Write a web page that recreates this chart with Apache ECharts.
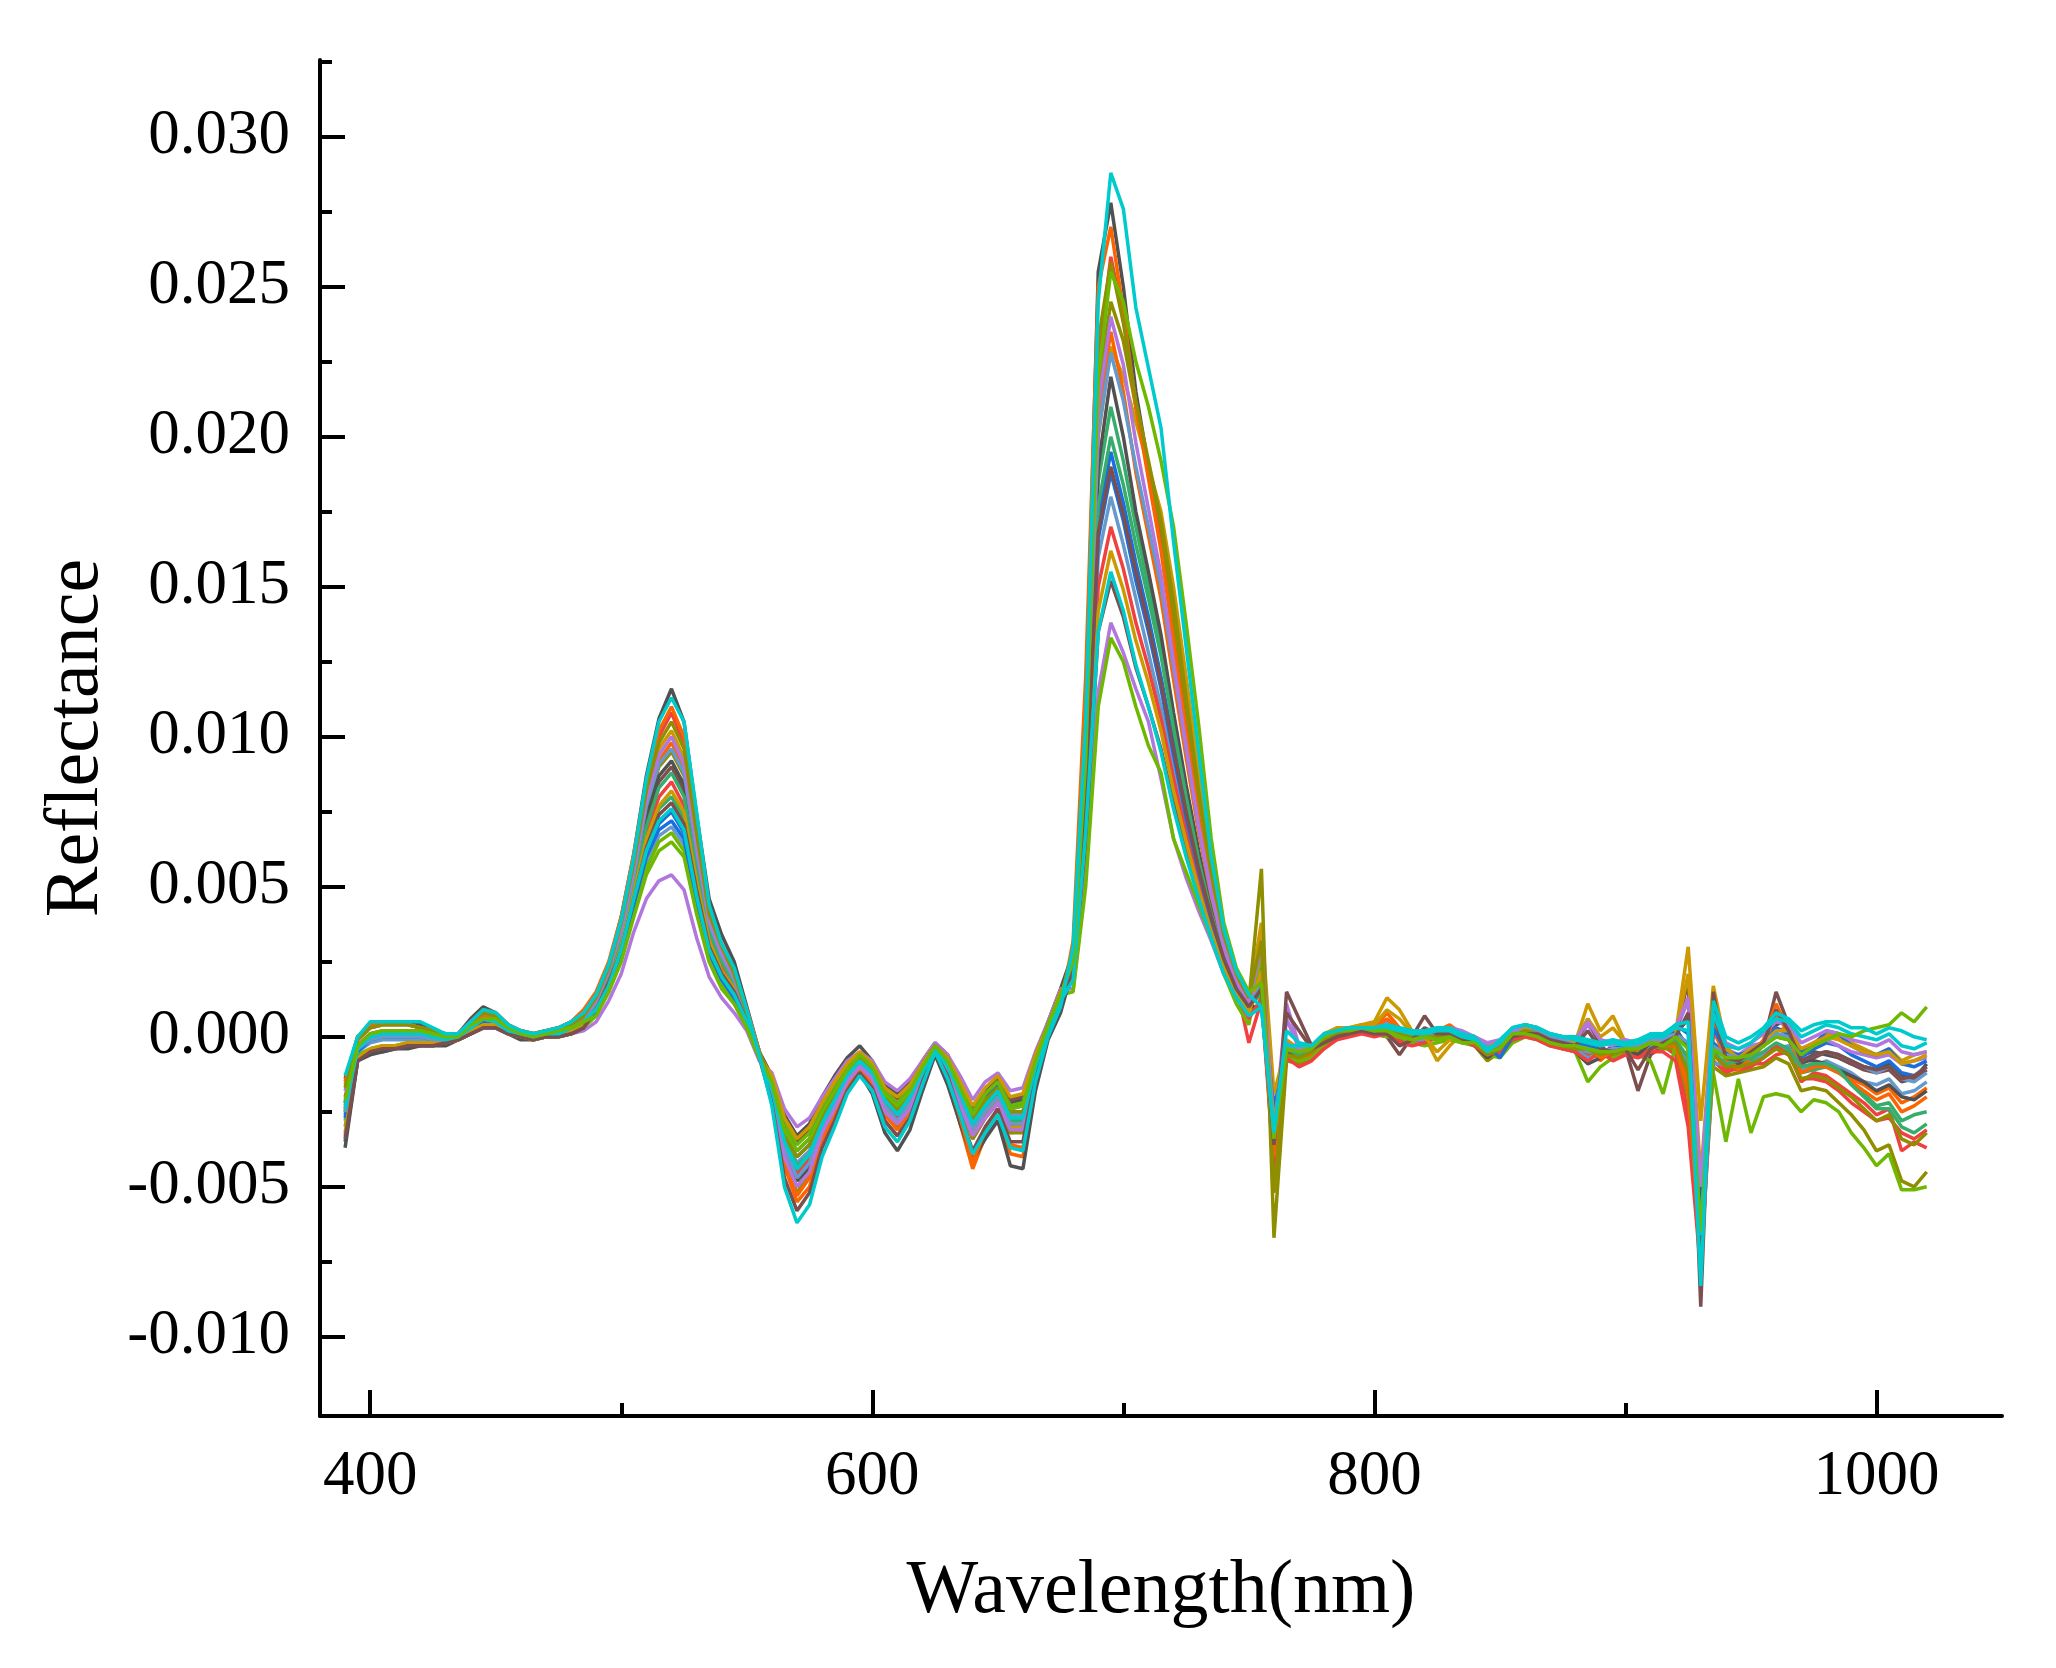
<!DOCTYPE html>
<html>
<head>
<meta charset="utf-8">
<title>Reflectance</title>
<script src="https://cdn.jsdelivr.net/npm/echarts@6/dist/echarts.min.js"></script>
<style>
    html, body {margin: 0; padding: 0; background: #fff;}
    #main {width: 2056px; height: 1668px;}
</style>
</head>
<body>
<div id="main"></div>
<script>
//wavelength grid (nm)
var wavelengths = [
    390, 395, 400, 405, 410, 415, 420, 425, 430, 435, 440, 445, 450, 455, 460, 465, 470, 475, 480, 485,
    490, 495, 500, 505, 510, 515, 520, 525, 530, 535, 540, 545, 550, 555,
    560, 565, 570, 575, 580, 585, 590, 595, 600, 605, 610, 615, 620, 625, 630, 635, 640, 645, 650, 655, 660, 665, 670, 675,
    680, 685, 690, 695, 700, 705, 710, 715, 720, 725, 730, 735, 740, 745, 750,
    755, 760, 765, 770, 775, 780, 785, 790, 795, 800,
    805, 810, 815, 820, 825, 830, 835, 840, 845, 850,
    855, 860, 865, 870, 875, 880, 885, 890, 895, 900,
    905, 910, 915, 920, 925, 930, 935, 940, 945, 950,
    955, 960, 965, 970, 975, 980, 985, 990, 995, 1000,
    1005, 1010, 1015, 1020
];
//tick labels
var xTicks = [400, 600, 800, 1000];
var xMinorTicks = [500, 700, 900];
var yTicks = [-0.010, -0.005, 0.000, 0.005, 0.010, 0.015, 0.020, 0.025, 0.030];
var yMinorTicks = [-0.0075, -0.0025, 0.0025, 0.0075, 0.0125, 0.0175, 0.0225, 0.0275, 0.0325];

//spectra, one array per sample
var s01 = [
    -0.0014, 0, 0.0004, 0.0005, 0.0005, 0.0005, 0.0004, 0.0002, 0.0001, 0.0001, 0.0006, 0.001, 0.0008, 0.0004, 0.0002, 0.0001, 0.0002, 0.0003, 0.0005, 0.0008,
    0.0014, 0.0024, 0.004, 0.0061, 0.0087, 0.0106, 0.0116, 0.0105, 0.0074, 0.0046, 0.0034, 0.0025, 0.001, -0.0005,
    -0.0013, -0.0026, -0.0033, -0.0029, -0.002, -0.0013, -0.0007, -0.0003, -0.0008, -0.0016, -0.0019, -0.0015, -0.0008, -0.0002, -0.0006, -0.0015, -0.0024, -0.0018, -0.0014, -0.0022, -0.0021, -0.0007, 0.0005, 0.0016,
    0.0028, 0.0108, 0.0255, 0.0278, 0.025, 0.0215, 0.019, 0.0165, 0.0135, 0.0103, 0.0073, 0.0049, 0.0031, 0.0019, 0.0012,
    0.002, -0.004, -0.0002, -0.0007, -0.0005, 0, 0.0002, 0.0003, 0.0003, 0.0003,
    0.0003, 0, -0.0001, 0.0001, 0.0001, 0.0002, 0, -0.0002, -0.0006, -0.0002,
    0.0002, 0.0003, 0.0002, -0.0001, -0.0003, -0.0003, -0.0002, -0.0006, -0.0003, -0.0005,
    -0.0004, -0.0001, -0.0003, 0.0001, 0.0006, -0.0072, 0.0008, -0.0005, -0.0009, -0.0006,
    -0.0002, 0.0004, 0.0006, -0.0006, -0.0005, -0.0006, -0.0007, -0.0009, -0.001, -0.0011,
    -0.0009, -0.0013, -0.0014, -0.0009
];
var s02 = [
    -0.0023, -0.0003, 0, 0.0001, 0.0001, 0.0001, 0.0001, 0, -0.0001, 0, 0.0004, 0.0007, 0.0006, 0.0002, 0.0001, 0, 0.0001, 0.0002, 0.0003, 0.0006,
    0.0013, 0.0023, 0.0038, 0.0059, 0.0083, 0.01, 0.0108, 0.0098, 0.0069, 0.0042, 0.003, 0.0022, 0.0009, -0.0005,
    -0.0019, -0.004, -0.005, -0.0045, -0.0032, -0.0024, -0.0015, -0.001, -0.0014, -0.0025, -0.003, -0.0024, -0.0014, -0.0005, -0.0012, -0.0023, -0.0034, -0.0027, -0.0022, -0.0032, -0.0031, -0.0012, 0.0002, 0.0012,
    0.0029, 0.01, 0.0225, 0.026, 0.024, 0.021, 0.0188, 0.0165, 0.0132, 0.01, 0.0072, 0.0048, 0.003, 0.0017, -0.0002,
    0.0012, -0.0038, -0.0006, -0.0009, -0.0007, -0.0003, 0, 0.0001, 0.0002, 0.0002,
    0.0001, -0.0001, -0.0002, -0.0001, -0.0001, 0, -0.0002, -0.0002, -0.0005, -0.0006,
    -0.0001, 0.0001, 0, -0.0002, -0.0003, -0.0004, -0.0006, -0.0004, -0.0007, -0.0005,
    -0.0006, -0.0004, -0.0003, -0.0006, -0.0025, -0.007, -0.0008, -0.0012, -0.001, -0.0009,
    -0.0009, -0.0006, -0.0005, -0.0015, -0.0012, -0.0013, -0.0016, -0.0019, -0.0022, -0.0026,
    -0.0024, -0.0038, -0.0035, -0.0037
];
var s03 = [
    -0.0035, -0.0008, -0.0005, -0.0005, -0.0004, -0.0003, -0.0003, -0.0003, -0.0002, -0.0001, 0.0001, 0.0003, 0.0003, 0.0001, 0, -0.0001, 0, 0, 0.0001, 0.0003,
    0.0008, 0.0017, 0.0028, 0.0045, 0.0062, 0.0071, 0.0075, 0.0068, 0.0047, 0.0029, 0.002, 0.0014, 0.0005, -0.0007,
    -0.0016, -0.0033, -0.004, -0.0036, -0.0027, -0.0019, -0.0012, -0.0007, -0.0011, -0.002, -0.0024, -0.0019, -0.0011, -0.0004, -0.0009, -0.0018, -0.0027, -0.002, -0.0016, -0.0025, -0.0025, -0.0009, 0.0003, 0.0013,
    0.0023, 0.008, 0.0172, 0.0195, 0.0178, 0.0158, 0.014, 0.012, 0.0098, 0.0076, 0.0056, 0.004, 0.0026, 0.0016, 0.001,
    0.0022, -0.0024, -0.0003, -0.0005, -0.0004, 0, 0.0001, 0.0002, 0.0002, 0.0001,
    0.0002, 0, 0.0001, -0.0001, 0.0002, 0.0002, 0.0001, 0, -0.0003, -0.0004,
    0.0001, 0.0003, 0.0002, 0, -0.0002, -0.0002, -0.0003, -0.0004, -0.0006, -0.0003,
    -0.0005, -0.0003, -0.0001, 0.0003, -0.0004, -0.006, -0.0002, -0.0006, -0.0007, -0.0004,
    -0.0003, 0.0001, 0, -0.0007, -0.0004, -0.0002, -0.0003, -0.0006, -0.0008, -0.001,
    -0.0008, -0.0012, -0.0013, -0.001
];
var s04 = [
    -0.0026, -0.0004, -0.0001, 0, 0, 0, 0, -0.0001, -0.0001, 0, 0.0003, 0.0005, 0.0005, 0.0002, 0.0001, 0, 0.0001, 0.0001, 0.0002, 0.0004,
    0.0009, 0.0018, 0.003, 0.0047, 0.0065, 0.0076, 0.008, 0.0073, 0.005, 0.0031, 0.0021, 0.0015, 0.0005, -0.0006,
    -0.0017, -0.0036, -0.0045, -0.004, -0.0029, -0.0021, -0.0013, -0.0008, -0.0012, -0.0022, -0.0026, -0.0021, -0.0012, -0.0004, -0.001, -0.002, -0.003, -0.0024, -0.0019, -0.0028, -0.0028, -0.001, 0.0002, 0.0012,
    0.0025, 0.0085, 0.0185, 0.021, 0.0192, 0.017, 0.015, 0.013, 0.0105, 0.0082, 0.006, 0.0042, 0.0027, 0.0017, 0.0011,
    0.0016, -0.003, -0.0005, -0.0006, -0.0006, -0.0002, 0, 0.0002, 0.0003, 0.0002,
    0.0003, 0.0002, 0, 0, -0.0001, 0.0001, 0, -0.0001, -0.0004, -0.0003,
    0, 0.0002, 0.0001, -0.0002, -0.0002, -0.0003, -0.0005, -0.0006, -0.0004, -0.0004,
    -0.0003, -0.0002, -0.0004, -0.0002, -0.001, -0.0068, -0.0006, -0.001, -0.0009, -0.0008,
    -0.0006, -0.0004, -0.0005, -0.0012, -0.0011, -0.001, -0.0012, -0.0015, -0.0019, -0.0023,
    -0.0022, -0.0028, -0.0026, -0.0025
];
var s05 = [
    -0.0033, -0.0007, -0.0005, -0.0004, -0.0003, -0.0003, -0.0002, -0.0003, -0.0002, -0.0001, 0.0001, 0.0003, 0.0003, 0.0001, 0, -0.0001, 0, 0, 0.0001, 0.0002,
    0.0005, 0.0012, 0.0021, 0.0035, 0.0046, 0.0052, 0.0054, 0.0049, 0.0033, 0.002, 0.0013, 0.0008, 0.0002, -0.0008,
    -0.0012, -0.0024, -0.003, -0.0027, -0.002, -0.0014, -0.0008, -0.0005, -0.0008, -0.0015, -0.0018, -0.0014, -0.0008, -0.0002, -0.0006, -0.0013, -0.0021, -0.0015, -0.0012, -0.0018, -0.0017, -0.0005, 0.0005, 0.0016,
    0.0016, 0.0053, 0.0115, 0.0138, 0.0128, 0.0116, 0.0105, 0.0086, 0.0066, 0.0053, 0.0042, 0.0032, 0.0021, 0.0013, 0.0007,
    0.0037, -0.0032, 0.0011, -0.0003, -0.0005, -0.0001, 0.0001, 0.0002, 0.0003, 0.0003,
    0.0005, 0.0003, 0.0001, 0.0001, 0.0002, 0.0003, 0.0001, -0.0001, -0.0005, -0.0002,
    0.0002, 0.0003, 0.0002, 0, -0.0001, -0.0002, 0.0004, -0.0002, -0.0003, -0.0002,
    -0.0003, 0, 0, 0.0002, 0.0012, -0.0052, 0.0005, -0.0004, -0.0006, -0.0003,
    -0.0002, 0.0003, 0.0001, -0.0004, -0.0002, -0.0001, -0.0003, -0.0005, -0.0006, -0.0007,
    -0.0006, -0.0009, -0.0008, -0.0007
];
var s06 = [
    -0.0016, -0.0001, 0.0003, 0.0004, 0.0004, 0.0004, 0.0003, 0.0002, 0, 0.0001, 0.0005, 0.0008, 0.0007, 0.0003, 0.0002, 0.0001, 0.0002, 0.0002, 0.0005, 0.0008,
    0.0013, 0.0023, 0.0037, 0.0057, 0.008, 0.0096, 0.0102, 0.0093, 0.0066, 0.004, 0.0029, 0.0021, 0.0008, -0.0005,
    -0.0018, -0.0038, -0.0048, -0.0043, -0.0031, -0.0023, -0.0014, -0.0009, -0.0013, -0.0024, -0.0028, -0.0023, -0.0013, -0.0005, -0.0011, -0.0022, -0.0032, -0.0026, -0.0021, -0.003, -0.003, -0.0011, 0.0002, 0.0012,
    0.0026, 0.009, 0.02, 0.023, 0.022, 0.0205, 0.019, 0.0175, 0.015, 0.012, 0.0088, 0.0058, 0.0035, 0.0021, 0.0013,
    0.0038, -0.0019, -0.0003, -0.0004, -0.0004, 0.0001, 0.0003, 0.0003, 0.0004, 0.0005,
    0.0013, 0.0009, 0.0002, 0, -0.0008, -0.0003, 0.0001, 0, -0.0003, -0.0002,
    0.0002, 0.0004, 0.0003, 0, -0.0001, -0.0002, 0.0011, 0.0002, 0.0007, -0.0002,
    -0.0003, 0, -0.0002, 0.0001, 0.003, -0.0028, 0.0017, -0.0003, -0.0008, -0.0005,
    -0.0003, 0.0002, 0.0003, -0.0005, -0.0002, 0.0001, 0, -0.0002, -0.0004, -0.0006,
    -0.0004, -0.0008, -0.0006, -0.0005
];
var s07 = [
    -0.0022, -0.0003, 0.0001, 0.0001, 0.0002, 0.0002, 0.0001, 0, 0, 0, 0.0004, 0.0007, 0.0006, 0.0002, 0.0001, 0, 0.0001, 0.0002, 0.0003, 0.0006,
    0.0011, 0.002, 0.0033, 0.0051, 0.0072, 0.0085, 0.009, 0.0082, 0.0058, 0.0037, 0.0026, 0.0019, 0.0007, -0.0006,
    -0.0014, -0.0028, -0.0035, -0.0031, -0.0023, -0.0016, -0.001, -0.0006, -0.0009, -0.0017, -0.0021, -0.0016, -0.0009, -0.0003, -0.0007, -0.0016, -0.0024, -0.0018, -0.0014, -0.0021, -0.002, -0.0006, 0.0004, 0.0015,
    0.0019, 0.0065, 0.0135, 0.0152, 0.014, 0.0123, 0.011, 0.0096, 0.0078, 0.0062, 0.0047, 0.0034, 0.0022, 0.0014, 0.0008,
    0.0024, -0.0045, 0.0015, 0.0006, -0.0003, -0.0002, 0, 0.0002, 0.0002, 0.0001,
    0, -0.0006, 0, 0.0007, 0.0001, 0, -0.0001, -0.0002, -0.0005, -0.0004,
    0, 0.0002, 0.0001, -0.0001, -0.0003, -0.0003, 0.0006, -0.0003, -0.0006, -0.0004,
    -0.0018, -0.0006, -0.0003, 0, 0.0019, -0.009, 0.0015, -0.0009, -0.0009, -0.0006,
    -0.0002, 0.0015, 0.0004, -0.0009, -0.0007, -0.0005, -0.0007, -0.0009, -0.0011, -0.0012,
    -0.0011, -0.0015, -0.0014, -0.0011
];
var s08 = [
    -0.0025, -0.0004, 0, 0.0001, 0.0001, 0.0001, 0.0001, 0, -0.0001, 0, 0.0003, 0.0006, 0.0005, 0.0002, 0.0001, 0, 0.0001, 0.0001, 0.0003, 0.0005,
    0.0011, 0.0021, 0.0035, 0.0054, 0.0076, 0.009, 0.0095, 0.0087, 0.0061, 0.0038, 0.0027, 0.0019, 0.0007, -0.0006,
    -0.002, -0.0041, -0.0052, -0.0046, -0.0034, -0.0025, -0.0016, -0.001, -0.0015, -0.0025, -0.003, -0.0025, -0.0014, -0.0005, -0.0012, -0.0023, -0.0034, -0.0027, -0.0022, -0.0032, -0.0032, -0.0013, 0.0001, 0.0011,
    0.0027, 0.0096, 0.0215, 0.0245, 0.0232, 0.021, 0.019, 0.017, 0.014, 0.011, 0.008, 0.0054, 0.0033, 0.002, 0.0012,
    0.0056, -0.0067, -0.0008, -0.0009, -0.0006, -0.0002, 0.0001, 0.0002, 0.0002, 0.0003,
    0.0002, 0, 0, -0.0001, 0, 0.0001, -0.0001, -0.0003, -0.0008, -0.0005,
    0, 0.0001, 0, -0.0002, -0.0004, -0.0004, -0.0005, -0.0007, -0.0006, -0.0006,
    -0.0005, -0.0003, -0.0004, -0.0004, -0.002, -0.0072, -0.001, -0.0013, -0.0012, -0.0011,
    -0.001, -0.0007, -0.0009, -0.0018, -0.0017, -0.0018, -0.0022, -0.0026, -0.0031, -0.0038,
    -0.0036, -0.0048, -0.005, -0.0045
];
var s09 = [
    -0.0015, 0, 0.0004, 0.0005, 0.0005, 0.0004, 0.0003, 0.0002, 0.0001, 0.0001, 0.0005, 0.0009, 0.0008, 0.0004, 0.0002, 0.0001, 0.0002, 0.0003, 0.0005, 0.0009,
    0.0015, 0.0025, 0.004, 0.0061, 0.0085, 0.0102, 0.011, 0.01, 0.007, 0.0043, 0.0031, 0.0022, 0.0009, -0.0005,
    -0.002, -0.0043, -0.0055, -0.005, -0.0036, -0.0027, -0.0017, -0.0011, -0.0016, -0.0028, -0.0033, -0.0027, -0.0015, -0.0005, -0.0014, -0.0029, -0.0044, -0.0033, -0.0026, -0.0039, -0.004, -0.0016, 0, 0.001,
    0.0032, 0.012, 0.025, 0.027, 0.0242, 0.021, 0.0186, 0.0162, 0.0132, 0.0102, 0.0073, 0.0049, 0.0031, 0.0019, 0.0011,
    0.0014, -0.0042, -0.0005, -0.0007, -0.0006, -0.0002, 0.0001, 0.0002, 0.0003, 0.0003,
    0.0008, 0.0003, 0, 0, 0.0002, 0.0004, 0.0001, -0.0001, -0.0007, -0.0003,
    0.0002, 0.0002, 0.0001, -0.0001, -0.0002, -0.0003, -0.0002, -0.0008, -0.0004, -0.0005,
    -0.0005, -0.0002, -0.0003, -0.0002, -0.0015, -0.0068, 0.0006, -0.0007, -0.001, -0.0006,
    -0.0001, 0.0011, 0.0002, -0.0011, -0.0009, -0.0009, -0.0011, -0.0014, -0.0016, -0.0019,
    -0.0017, -0.0022, -0.002, -0.0017
];
var s10 = [
    -0.0028, -0.0005, -0.0002, -0.0001, -0.0001, -0.0001, -0.0001, -0.0001, -0.0002, -0.0001, 0.0002, 0.0005, 0.0004, 0.0002, 0, -0.0001, 0, 0.0001, 0.0002, 0.0004,
    0.0008, 0.0016, 0.0027, 0.0043, 0.0058, 0.0067, 0.007, 0.0064, 0.0044, 0.0027, 0.0018, 0.0012, 0.0004, -0.0007,
    -0.0016, -0.0034, -0.0042, -0.0038, -0.0028, -0.002, -0.0012, -0.0007, -0.0011, -0.0021, -0.0025, -0.002, -0.0011, -0.0004, -0.0009, -0.0019, -0.0028, -0.0022, -0.0018, -0.0026, -0.0026, -0.0009, 0.0003, 0.0013,
    0.0022, 0.0078, 0.016, 0.018, 0.0164, 0.0146, 0.0128, 0.011, 0.009, 0.007, 0.0053, 0.0037, 0.0024, 0.0015, 0.0009,
    0.0018, -0.0036, -0.0001, -0.0006, -0.0005, -0.0001, 0, 0.0001, 0.0002, 0.0001,
    0.0001, 0.0001, -0.0001, -0.0001, 0, 0, -0.0001, -0.0002, -0.0004, -0.0005,
    0, 0.0001, 0.0001, -0.0001, -0.0002, -0.0004, -0.0007, -0.0006, -0.0005, -0.0005,
    -0.0004, -0.0003, -0.0002, -0.0001, -0.0008, -0.0076, -0.0009, -0.0009, -0.0008, -0.0009,
    -0.0006, -0.0004, -0.0003, -0.0011, -0.001, -0.0008, -0.001, -0.0012, -0.0015, -0.0016,
    -0.0014, -0.0019, -0.0018, -0.0015
];
var s11 = [
    -0.003, -0.0006, -0.0004, -0.0003, -0.0003, -0.0002, -0.0002, -0.0002, -0.0002, -0.0001, 0.0001, 0.0004, 0.0003, 0.0001, 0, -0.0001, 0, 0, 0.0001, 0.0003,
    0.0007, 0.0015, 0.0026, 0.0042, 0.0056, 0.0065, 0.0068, 0.0062, 0.0042, 0.0026, 0.0017, 0.0011, 0.0003, -0.0007,
    -0.0014, -0.0029, -0.0036, -0.0032, -0.0024, -0.0017, -0.001, -0.0006, -0.001, -0.0018, -0.0022, -0.0017, -0.001, -0.0003, -0.0008, -0.0017, -0.0025, -0.0019, -0.0015, -0.0023, -0.0022, -0.0007, 0.0004, 0.0014,
    0.0015, 0.005, 0.011, 0.0133, 0.0125, 0.011, 0.0097, 0.0088, 0.0066, 0.0055, 0.0044, 0.0033, 0.0021, 0.0011, 0.0004,
    0.0028, -0.0039, -0.0007, -0.0008, -0.0007, -0.0003, 0, 0.0001, 0.0002, 0.0001,
    0, 0, -0.0002, -0.0003, -0.0002, -0.0001, -0.0002, -0.0003, -0.0006, -0.0007,
    -0.0002, 0, -0.0001, -0.0003, -0.0004, -0.0005, -0.0015, -0.001, -0.0007, -0.0006,
    -0.0006, -0.0008, -0.0019, -0.0003, -0.0006, -0.0062, -0.0012, -0.0035, -0.0014, -0.0032,
    -0.002, -0.0019, -0.002, -0.0025, -0.0021, -0.0022, -0.0025, -0.0032, -0.0037, -0.0043,
    -0.0039, -0.0051, -0.0051, -0.005
];
var s12 = [
    -0.0037, -0.0008, -0.0006, -0.0005, -0.0004, -0.0004, -0.0003, -0.0003, -0.0003, -0.0001, 0.0001, 0.0003, 0.0003, 0.0001, -0.0001, -0.0001, 0, 0, 0.0001, 0.0003,
    0.001, 0.002, 0.0033, 0.0052, 0.0073, 0.0087, 0.0092, 0.0084, 0.006, 0.0039, 0.0028, 0.002, 0.0008, -0.0006,
    -0.0019, -0.0039, -0.0048, -0.0044, -0.0033, -0.0025, -0.0016, -0.0012, -0.0019, -0.0032, -0.0038, -0.0031, -0.0018, -0.0006, -0.0016, -0.0029, -0.0041, -0.0034, -0.0028, -0.0043, -0.0044, -0.0018, -0.0001, 0.0008,
    0.0023, 0.0083, 0.019, 0.022, 0.02, 0.0175, 0.0155, 0.0134, 0.0108, 0.0084, 0.0062, 0.0043, 0.0028, 0.0017, 0.001,
    0.001, -0.0028, -0.0006, -0.0005, -0.0004, 0, 0.0001, 0.0002, 0.0003, 0.0003,
    0.0002, 0.0001, 0, 0.0001, 0.0001, 0.0001, -0.0001, -0.0003, -0.0007, -0.0004,
    0, 0.0002, 0.0001, -0.0002, -0.0003, -0.0005, -0.0009, -0.0007, -0.0005, -0.0004,
    -0.0006, -0.0002, 0.0001, 0.0002, -0.0003, -0.0058, 0.0002, -0.0006, -0.0009, -0.0006,
    -0.0003, 0, -0.0001, -0.0008, -0.0008, -0.0009, -0.0011, -0.0013, -0.0015, -0.0018,
    -0.0016, -0.002, -0.0021, -0.0018
];
var s13 = [
    -0.002, -0.0003, 0.0001, 0.0002, 0.0002, 0.0002, 0.0002, 0.0001, 0, 0, 0.0004, 0.0007, 0.0006, 0.0003, 0.0001, 0.0001, 0.0001, 0.0002, 0.0004, 0.0006,
    0.001, 0.0019, 0.0031, 0.0049, 0.0068, 0.008, 0.0085, 0.0077, 0.0053, 0.0033, 0.0023, 0.0016, 0.0006, -0.0006,
    -0.0018, -0.0037, -0.0046, -0.0041, -0.003, -0.0022, -0.0014, -0.0009, -0.0013, -0.0023, -0.0027, -0.0022, -0.0013, -0.0005, -0.0011, -0.0021, -0.0031, -0.0025, -0.002, -0.0029, -0.0029, -0.0011, 0.0002, 0.0012,
    0.002, 0.0073, 0.015, 0.017, 0.0156, 0.0138, 0.0123, 0.0106, 0.0086, 0.0068, 0.0051, 0.0036, 0.0023, 0.0014, 0.0006,
    0.0013, -0.0044, -0.0007, -0.001, -0.0008, -0.0004, -0.0001, 0, 0.0001, 0,
    0.0001, -0.0002, -0.0003, -0.0002, 0, 0.0001, -0.0001, -0.0003, -0.0006, -0.0005,
    -0.0001, 0, -0.0001, -0.0003, -0.0004, -0.0005, -0.0008, -0.0005, -0.0008, -0.0006,
    -0.0007, -0.0005, -0.0005, -0.0008, -0.003, -0.0078, -0.0004, -0.0011, -0.0011, -0.001,
    -0.0007, -0.0003, -0.0006, -0.0014, -0.0014, -0.0015, -0.0018, -0.0022, -0.0025, -0.0028,
    -0.0027, -0.0032, -0.0034, -0.0031
];
var s14 = [
    -0.0027, -0.0005, -0.0001, 0, 0, 0, 0, -0.0001, -0.0001, 0, 0.0003, 0.0005, 0.0004, 0.0002, 0, 0, 0, 0.0001, 0.0002, 0.0004,
    0.0008, 0.0016, 0.0028, 0.0044, 0.006, 0.0069, 0.0072, 0.0066, 0.0045, 0.0028, 0.0019, 0.0013, 0.0004, -0.0007,
    -0.0015, -0.0031, -0.0038, -0.0034, -0.0025, -0.0018, -0.0011, -0.0006, -0.001, -0.0019, -0.0023, -0.0018, -0.001, -0.0003, -0.0008, -0.0017, -0.0026, -0.0019, -0.0015, -0.0024, -0.0023, -0.0008, 0.0004, 0.0014,
    0.0023, 0.0079, 0.0166, 0.0188, 0.0172, 0.0152, 0.0135, 0.0116, 0.0094, 0.0073, 0.0055, 0.0039, 0.0025, 0.0016, 0.001,
    0.002, -0.0026, -0.0002, -0.0004, -0.0004, 0, 0.0001, 0.0002, 0.0002, 0.0002,
    0.0003, 0.0001, 0, 0, 0.0001, 0.0002, 0.0001, -0.0001, -0.0003, -0.0007,
    0, 0.0002, 0.0002, 0, -0.0001, -0.0002, -0.0003, -0.0005, -0.0004, -0.0003,
    -0.0004, -0.0001, 0, 0.0004, 0.0001, -0.0063, 0.0003, -0.0005, -0.0006, -0.0005,
    -0.0002, 0.0003, 0.0001, -0.0005, -0.0003, 0.0002, 0.0001, -0.0003, -0.0005, -0.0006,
    -0.0004, -0.0009, -0.001, -0.0008
];
var s15 = [
    -0.0018, -0.0001, 0.0003, 0.0004, 0.0004, 0.0004, 0.0003, 0.0001, 0, 0.0001, 0.0005, 0.0008, 0.0007, 0.0003, 0.0002, 0.0001, 0.0001, 0.0002, 0.0004, 0.0007,
    0.0012, 0.0022, 0.0036, 0.0056, 0.0079, 0.0094, 0.01, 0.0091, 0.0064, 0.0039, 0.0028, 0.002, 0.0008, -0.0005,
    -0.0019, -0.004, -0.005, -0.0045, -0.0032, -0.0024, -0.0015, -0.001, -0.0014, -0.0025, -0.0029, -0.0024, -0.0014, -0.0005, -0.0012, -0.0023, -0.0033, -0.0027, -0.0022, -0.0031, -0.0031, -0.0012, 0.0002, 0.0012,
    0.0026, 0.0093, 0.021, 0.024, 0.0224, 0.0198, 0.0176, 0.0154, 0.0125, 0.0097, 0.007, 0.0048, 0.003, 0.0018, 0.0011,
    0.003, -0.0033, 0.0006, -0.0004, -0.0005, -0.0001, 0.0001, 0.0002, 0.0003, 0.0003,
    0.0004, 0.0002, 0.0002, 0.0001, 0.0003, 0.0003, 0.0002, 0, -0.0002, -0.0001,
    0.0002, 0.0004, 0.0003, 0.0001, 0, -0.0001, 0.0005, -0.0001, -0.0002, -0.0001,
    -0.0002, 0.0001, 0.0001, 0.0003, 0.0013, -0.005, 0.0009, -0.0002, -0.0004, -0.0002,
    0.0001, 0.0005, 0.0004, -0.0002, 0, 0.0002, 0.0001, -0.0001, -0.0002, -0.0003,
    -0.0001, -0.0005, -0.0006, -0.0005
];
var s16 = [
    -0.0024, -0.0004, 0, 0.0001, 0.0001, 0.0001, 0.0001, 0, -0.0001, 0, 0.0003, 0.0006, 0.0005, 0.0002, 0.0001, 0, 0.0001, 0.0001, 0.0003, 0.0005,
    0.0009, 0.0017, 0.0029, 0.0046, 0.0062, 0.0072, 0.0076, 0.0069, 0.0047, 0.0029, 0.002, 0.0014, 0.0005, -0.0007,
    -0.0017, -0.0035, -0.0044, -0.0039, -0.0029, -0.0021, -0.0013, -0.0008, -0.0012, -0.0021, -0.0026, -0.002, -0.0012, -0.0004, -0.001, -0.0019, -0.0029, -0.0023, -0.0018, -0.0027, -0.0027, -0.001, 0.0002, 0.0012,
    0.0019, 0.0068, 0.0135, 0.0155, 0.0142, 0.0124, 0.011, 0.0095, 0.0076, 0.006, 0.0046, 0.0033, 0.0021, 0.0013, 0.0007,
    0.001, -0.0032, -0.0003, -0.0003, -0.0003, 0.0001, 0.0002, 0.0003, 0.0003, 0.0002,
    0.0003, 0.0002, 0.0001, 0.0001, 0.0002, 0.0002, 0, -0.0001, -0.0004, -0.0002,
    0.0003, 0.0004, 0.0003, 0.0001, 0, -0.0001, -0.0002, -0.0003, -0.0002, -0.0003,
    -0.0002, 0, 0, 0.0003, 0.0002, -0.0066, 0.0008, -0.0003, -0.0004, -0.0002,
    0.0002, 0.0006, 0.0005, 0, 0.0002, 0.0004, 0.0003, 0.0001, 0, -0.0001,
    0.0001, -0.0003, -0.0004, -0.0002
];
var s17 = [
    -0.0021, -0.0003, 0.0001, 0.0002, 0.0002, 0.0002, 0.0002, 0.0001, 0, 0, 0.0004, 0.0006, 0.0006, 0.0003, 0.0001, 0, 0.0001, 0.0002, 0.0003, 0.0005,
    0.0007, 0.0015, 0.0025, 0.004, 0.0054, 0.0062, 0.0065, 0.006, 0.0041, 0.0025, 0.0016, 0.0011, 0.0003, -0.0007,
    -0.0015, -0.0031, -0.0038, -0.0034, -0.0025, -0.0018, -0.0011, -0.0006, -0.001, -0.0019, -0.0023, -0.0018, -0.001, -0.0003, -0.0008, -0.0017, -0.0026, -0.0019, -0.0015, -0.0024, -0.0023, -0.0008, 0.0004, 0.0014,
    0.0025, 0.0092, 0.022, 0.0255, 0.0245, 0.0225, 0.021, 0.0192, 0.017, 0.0138, 0.0104, 0.0066, 0.0038, 0.0023, 0.0015,
    0.0018, -0.0034, -0.0004, -0.0005, -0.0004, 0, 0.0002, 0.0002, 0.0003, 0.0002,
    0.0002, 0, -0.0001, 0, -0.0001, 0, -0.0002, -0.0002, -0.0005, -0.0004,
    0.0001, 0.0001, 0, -0.0002, -0.0003, -0.0003, -0.0004, -0.0005, -0.0005, -0.0004,
    -0.0004, -0.0002, -0.0003, 0, -0.0004, -0.0065, -0.0004, -0.0007, -0.0007, -0.0006,
    -0.0003, 0, -0.0001, -0.0006, -0.0003, -0.0001, 0.0001, 0, 0.0002, 0.0003,
    0.0004, 0.0008, 0.0005, 0.001
];
var s19 = [
    -0.0024, -0.0004, 0, 0.0001, 0.0001, 0.0001, 0.0001, 0, -0.0001, 0, 0.0003, 0.0007, 0.0006, 0.0002, 0.0001, 0, 0.0001, 0.0002, 0.0003, 0.0006,
    0.0012, 0.0022, 0.0036, 0.0055, 0.0078, 0.0092, 0.0098, 0.009, 0.0063, 0.0039, 0.0028, 0.002, 0.0008, -0.0005,
    -0.002, -0.0042, -0.0053, -0.0047, -0.0034, -0.0025, -0.0016, -0.001, -0.0015, -0.0026, -0.0031, -0.0025, -0.0014, -0.0005, -0.0013, -0.0027, -0.0042, -0.0031, -0.0024, -0.0036, -0.0037, -0.0014, 0.0001, 0.0011,
    0.0027, 0.0098, 0.0208, 0.0235, 0.0215, 0.0188, 0.0167, 0.0146, 0.0119, 0.0093, 0.0068, 0.0047, 0.003, 0.0018, 0.001,
    0.0015, -0.004, -0.0004, -0.0006, -0.0005, -0.0001, 0.0001, 0.0002, 0.0003, 0.0003,
    0.0006, 0.0002, 0, 0, 0.0001, 0.0003, 0.0001, -0.0002, -0.0006, -0.0003,
    0.0001, 0.0002, 0.0001, -0.0001, -0.0002, -0.0003, -0.0003, -0.0007, -0.0005, -0.0005,
    -0.0004, -0.0002, -0.0003, -0.0003, -0.0018, -0.0071, 0.0003, -0.0008, -0.0011, -0.0007,
    -0.0003, 0.0008, 0.0001, -0.0012, -0.001, -0.001, -0.0012, -0.0015, -0.0018, -0.0021,
    -0.0019, -0.0025, -0.0023, -0.002
];
var s20 = [
    -0.0022, -0.0003, 0, 0.0001, 0.0001, 0.0001, 0.0001, 0, 0, 0, 0.0003, 0.0006, 0.0005, 0.0002, 0.0001, 0, 0.0001, 0.0001, 0.0003, 0.0005,
    0.001, 0.002, 0.0032, 0.005, 0.007, 0.0083, 0.0088, 0.008, 0.0056, 0.0035, 0.0025, 0.0018, 0.0007, -0.0006,
    -0.0016, -0.0034, -0.0043, -0.0039, -0.0028, -0.002, -0.0013, -0.0008, -0.0011, -0.0021, -0.0025, -0.002, -0.0012, -0.0004, -0.001, -0.0019, -0.0029, -0.0023, -0.0018, -0.0027, -0.0027, -0.001, 0.0003, 0.0013,
    0.0024, 0.0083, 0.0177, 0.02, 0.0184, 0.0164, 0.0146, 0.0127, 0.0103, 0.008, 0.0059, 0.0041, 0.0027, 0.0017, 0.0011,
    0.0014, -0.0033, -0.0004, -0.0006, -0.0005, -0.0001, 0.0001, 0.0002, 0.0002, 0.0002,
    0.0002, 0.0001, 0, 0, 0, 0.0001, 0, -0.0001, -0.0004, -0.0004,
    0, 0.0002, 0.0001, -0.0001, -0.0002, -0.0003, -0.0004, -0.0005, -0.0005, -0.0004,
    -0.0003, -0.0002, -0.0003, -0.0001, -0.0007, -0.0069, -0.0005, -0.0009, -0.0008, -0.0007,
    -0.0005, -0.0002, -0.0004, -0.001, -0.0009, -0.0009, -0.0011, -0.0016, -0.002, -0.0024,
    -0.0024, -0.003, -0.0032, -0.0029
];
var s21 = [
    -0.0032, -0.0007, -0.0004, -0.0003, -0.0003, -0.0002, -0.0002, -0.0002, -0.0002, -0.0001, 0.0002, 0.0004, 0.0004, 0.0001, 0, -0.0001, 0, 0.0001, 0.0002, 0.0004,
    0.0009, 0.0018, 0.003, 0.0048, 0.0066, 0.0077, 0.0082, 0.0075, 0.0052, 0.0032, 0.0022, 0.0016, 0.0006, -0.0006,
    -0.0013, -0.0027, -0.0034, -0.003, -0.0022, -0.0015, -0.0009, -0.0005, -0.0009, -0.0017, -0.002, -0.0016, -0.0009, -0.0003, -0.0007, -0.0015, -0.0023, -0.0017, -0.0013, -0.002, -0.0019, -0.0006, 0.0004, 0.0015,
    0.002, 0.007, 0.0142, 0.0162, 0.0149, 0.0132, 0.0118, 0.0102, 0.0082, 0.0065, 0.0049, 0.0035, 0.0023, 0.0014, 0.0008,
    0.0022, -0.0029, -0.0001, -0.0004, -0.0003, 0.0001, 0.0002, 0.0003, 0.0004, 0.0004,
    0.0009, 0.0006, 0.0001, 0, -0.0005, -0.0001, 0.0001, 0, -0.0003, -0.0002,
    0.0002, 0.0003, 0.0002, 0, -0.0001, -0.0002, 0.0006, 0, 0.0003, -0.0002,
    -0.0003, -0.0001, -0.0002, 0.0001, 0.0021, -0.0047, 0.001, -0.0004, -0.0007, -0.0004,
    -0.0002, 0.0002, 0.0002, -0.0004, -0.0002, 0, -0.0001, -0.0003, -0.0005, -0.0006,
    -0.0005, -0.0009, -0.0008, -0.0006
];
var s22 = [
    -0.0025, -0.0004, -0.0001, 0, 0, 0, 0, -0.0001, -0.0001, 0, 0.0003, 0.0006, 0.0005, 0.0002, 0.0001, 0, 0.0001, 0.0001, 0.0003, 0.0005,
    0.0012, 0.0022, 0.0035, 0.0054, 0.0077, 0.0091, 0.0096, 0.0088, 0.0062, 0.0038, 0.0027, 0.0019, 0.0007, -0.0006,
    -0.0018, -0.0037, -0.0047, -0.0042, -0.003, -0.0022, -0.0014, -0.0009, -0.0013, -0.0023, -0.0028, -0.0022, -0.0013, -0.0005, -0.0011, -0.0021, -0.0031, -0.0025, -0.002, -0.0029, -0.0029, -0.0011, 0.0002, 0.0012,
    0.0026, 0.0092, 0.0201, 0.0228, 0.0212, 0.019, 0.017, 0.015, 0.0123, 0.0096, 0.007, 0.0048, 0.003, 0.0018, 0.0011,
    0.0017, -0.0031, -0.0002, -0.0005, -0.0004, 0, 0.0001, 0.0002, 0.0002, 0.0002,
    0.0002, 0.0001, 0, 0, 0.0001, 0.0001, 0, -0.0001, -0.0003, -0.0004,
    0.0001, 0.0002, 0.0002, 0, -0.0001, -0.0003, -0.0005, -0.0005, -0.0004, -0.0004,
    -0.0003, -0.0001, -0.0001, 0.0001, -0.0002, -0.0074, -0.0003, -0.0006, -0.0007, -0.0006,
    -0.0003, 0.0001, 0, -0.0008, -0.0006, -0.0005, -0.0006, -0.0008, -0.001, -0.0012,
    -0.001, -0.0014, -0.0015, -0.0012
];
var s23 = [
    -0.0017, -0.0001, 0.0003, 0.0004, 0.0004, 0.0004, 0.0003, 0.0002, 0.0001, 0.0001, 0.0005, 0.0008, 0.0007, 0.0003, 0.0002, 0.0001, 0.0002, 0.0002, 0.0004, 0.0007,
    0.0013, 0.0023, 0.0038, 0.0058, 0.0082, 0.0098, 0.0105, 0.0096, 0.0068, 0.0041, 0.003, 0.0021, 0.0008, -0.0005,
    -0.0016, -0.0033, -0.004, -0.0036, -0.0026, -0.0019, -0.0012, -0.0007, -0.0011, -0.002, -0.0024, -0.0019, -0.0011, -0.0004, -0.0009, -0.0019, -0.0028, -0.0021, -0.0017, -0.0025, -0.0025, -0.0009, 0.0003, 0.0013,
    0.0029, 0.0104, 0.0232, 0.0258, 0.0238, 0.0212, 0.0192, 0.0172, 0.0145, 0.0113, 0.0082, 0.0055, 0.0034, 0.0021, 0.0013,
    0.0032, -0.0052, -0.0006, -0.0007, -0.0005, -0.0001, 0.0001, 0.0002, 0.0003, 0.0003,
    0.0002, 0.0001, 0, 0, 0, 0.0001, -0.0001, -0.0002, -0.0006, -0.0004,
    0, 0.0002, 0.0001, -0.0001, -0.0003, -0.0004, -0.0004, -0.0006, -0.0005, -0.0005,
    -0.0004, -0.0002, -0.0003, -0.0002, -0.0012, -0.0067, -0.0006, -0.001, -0.001, -0.0009,
    -0.0007, -0.0004, -0.0006, -0.0014, -0.0013, -0.0014, -0.0017, -0.002, -0.0024, -0.0028,
    -0.0026, -0.0034, -0.0036, -0.0032
];
var s24 = [
    -0.0034, -0.0008, -0.0005, -0.0004, -0.0004, -0.0003, -0.0003, -0.0003, -0.0002, -0.0001, 0.0001, 0.0003, 0.0003, 0.0001, 0, -0.0001, 0, 0, 0.0001, 0.0003,
    0.0009, 0.0018, 0.0029, 0.0046, 0.0063, 0.0074, 0.0078, 0.0071, 0.0049, 0.003, 0.0021, 0.0015, 0.0005, -0.0007,
    -0.0022, -0.0047, -0.0058, -0.0052, -0.0037, -0.0028, -0.0018, -0.0012, -0.0017, -0.0028, -0.0033, -0.0027, -0.0015, -0.0005, -0.0013, -0.0026, -0.0038, -0.003, -0.0024, -0.0035, -0.0035, -0.0013, 0.0001, 0.0011,
    0.0022, 0.0078, 0.0168, 0.019, 0.0174, 0.0155, 0.0137, 0.0118, 0.0096, 0.0075, 0.0056, 0.004, 0.0026, 0.0016, 0.001,
    0.0016, -0.0036, 0.0008, 0.0002, -0.0004, -0.0002, 0, 0.0001, 0.0002, 0.0001,
    0.0001, -0.0003, -0.0001, 0.0003, 0.0001, 0.0001, -0.0001, -0.0002, -0.0005, -0.0004,
    0, 0.0001, 0.0001, -0.0001, -0.0002, -0.0003, 0.0002, -0.0004, -0.0005, -0.0004,
    -0.0011, -0.0004, -0.0002, 0, 0.0008, -0.0079, 0.0009, -0.0007, -0.0008, -0.0005,
    -0.0002, 0.0009, 0.0002, -0.0008, -0.0006, -0.0005, -0.0006, -0.0008, -0.001, -0.0011,
    -0.001, -0.0014, -0.0013, -0.001
];
var s18 = [
    -0.0013, 0, 0.0005, 0.0005, 0.0005, 0.0005, 0.0005, 0.0003, 0.0001, 0.0001, 0.0005, 0.0009, 0.0008, 0.0004, 0.0002, 0.0001, 0.0002, 0.0003, 0.0005, 0.0008,
    0.0014, 0.0024, 0.0039, 0.006, 0.0086, 0.0105, 0.0113, 0.0105, 0.0075, 0.0044, 0.0031, 0.0023, 0.0009, -0.0006,
    -0.0023, -0.005, -0.0062, -0.0056, -0.004, -0.003, -0.0019, -0.0013, -0.0018, -0.003, -0.0035, -0.0028, -0.0016, -0.0005, -0.0014, -0.0026, -0.0039, -0.0032, -0.0026, -0.0037, -0.0038, -0.0015, 0, 0.001,
    0.003, 0.0105, 0.0245, 0.0288, 0.0276, 0.0243, 0.0223, 0.0203, 0.0165, 0.013, 0.0095, 0.006, 0.0036, 0.0022, 0.0014,
    0.001, -0.0032, 0.0002, -0.0002, -0.0003, 0.0001, 0.0002, 0.0003, 0.0003, 0.0003,
    0.0004, 0.0003, 0.0002, 0.0002, 0.0003, 0.0003, 0.0001, 0, -0.0005, -0.0001,
    0.0003, 0.0004, 0.0003, 0.0001, 0, 0, -0.0001, -0.0002, -0.0001, -0.0002,
    -0.0001, 0.0001, 0.0001, 0.0004, 0.0005, -0.0083, 0.0012, 0, -0.0002, 0,
    0.0003, 0.0008, 0.0006, 0.0002, 0.0004, 0.0005, 0.0005, 0.0003, 0.0003, 0.0001,
    0.0003, 0.0002, 0, -0.0001
];

//drawing order: last one ends on top
var samples = [
    s01, s02, s03, s04, s05, s06, s07, s08, s09, s10, s11, s12,
    s13, s19, s14, s20, s21, s22, s15, s23, s24, s16, s17, s18
];
var colors = [
    '#515151', '#F14040', '#1A6FDF', '#37AD6B', '#B177DE', '#CC9900',
    '#7D4E4E', '#8E8E00', '#FB6501', '#6699CC', '#6FB802', '#515151',
    '#F14040', '#FB6501', '#1A6FDF', '#37AD6B', '#CC9900', '#6699CC',
    '#B177DE', '#8E8E00', '#7D4E4E', '#00CBCC', '#6FB802', '#00CBCC'
];

var serifFont = 'Liberation Serif';
var tickStyle = {color: '#000', width: 4};

var chart = echarts.init(document.getElementById('main'));

var series = samples.map(function (s, k) {
    return {
        type: 'line',
        name: 'S' + (k + 1),
        showSymbol: false,
        silent: true,
        lineStyle: {width: 3.5, color: colors[k]},
        itemStyle: {color: colors[k]},
        data: wavelengths.map(function (w, i) {
            return [w, s[i]];
        })
    };
});

var option = {
    animation: false,
    backgroundColor: '#fff',
    grid: {left: 320, right: 54, top: 60, bottom: 252},
    xAxis: [{
        type: 'value',
        position: 'bottom',
        min: 380,
        max: 1050,
        name: 'Wavelength(nm)',
        nameLocation: 'middle',
        nameGap: 138,
        nameTextStyle: {fontFamily: serifFont, fontSize: 76, color: '#000'},
        axisLine: {onZero: false, lineStyle: tickStyle},
        axisTick: {inside: true, length: 26, lineStyle: tickStyle, customValues: xTicks},
        axisLabel: {
            customValues: xTicks,
            margin: 30,
            fontFamily: serifFont,
            fontSize: 63,
            color: '#000',
            formatter: function (v) {
                return String(v);
            }
        },
        splitLine: {show: false}
    }, {
        //minor ticks
        type: 'value',
        position: 'bottom',
        min: 380,
        max: 1050,
        axisLine: {show: false, onZero: false},
        axisTick: {inside: true, length: 13, lineStyle: tickStyle, customValues: xMinorTicks},
        axisLabel: {show: false},
        splitLine: {show: false}
    }],
    yAxis: [{
        type: 'value',
        position: 'left',
        min: -0.01264,
        max: 0.03256,
        name: 'Reflectance',
        nameLocation: 'middle',
        nameGap: 205,
        nameTextStyle: {fontFamily: serifFont, fontSize: 76, color: '#000'},
        axisLine: {show: true, onZero: false, lineStyle: tickStyle},
        axisTick: {inside: true, length: 25, lineStyle: tickStyle, customValues: yTicks},
        axisLabel: {
            customValues: yTicks,
            margin: 30,
            fontFamily: serifFont,
            fontSize: 63,
            color: '#000',
            formatter: function (v) {
                return v.toFixed(3);
            }
        },
        splitLine: {show: false}
    }, {
        //minor ticks
        type: 'value',
        position: 'left',
        min: -0.01264,
        max: 0.03256,
        axisLine: {show: false, onZero: false},
        axisTick: {inside: true, length: 12, lineStyle: tickStyle, customValues: yMinorTicks},
        axisLabel: {show: false},
        splitLine: {show: false}
    }],
    series: series
};

chart.setOption(option);
</script>
</body>
</html>
